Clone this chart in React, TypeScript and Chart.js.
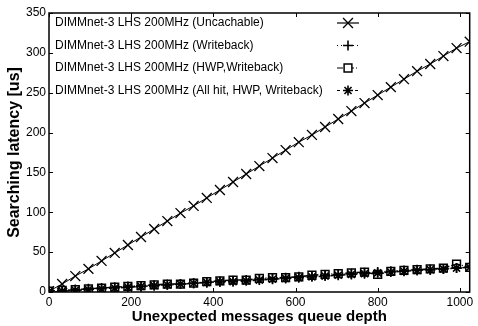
import React, { useEffect, useRef } from "react";
import { Chart, registerables } from "chart.js";
import { drawPoint } from "chart.js/helpers";

Chart.register(...registerables);

const depths = [0, 32, 64, 96, 128, 160, 192, 224, 256, 288, 320, 352, 384, 416, 448, 480, 512, 544, 576, 608, 640, 672, 704, 736, 768, 800, 832, 864, 896, 928, 960, 992, 1024];
const uncachable = [1, 10, 20, 29, 39, 49, 59, 69, 79, 89, 99, 108, 118, 128, 138, 148, 158, 168, 178, 188, 197, 207, 217, 227, 237, 247, 257, 267, 277, 286, 296, 306, 314];
const writeback = [1, 2, 3, 4, 5, 6, 7, 7, 8, 9, 10, 11, 12, 13, 14, 15, 16, 17, 18, 19, 20, 21, 22, 23, 24, 25, 26, 27, 28, 28, 29, 30, 31];
const hwpWriteback = [1, 2, 3, 4, 5, 6, 7, 8, 9, 10, 10, 11, 13, 14, 15, 15, 17, 18, 18, 19, 21, 22, 23, 24, 25, 22, 26, 27, 28, 29, 30, 35, 31];
const allHit = [0, 1, 2, 3, 4, 5, 6, 7, 8, 9, 10, 11, 12, 13, 13, 14, 15, 16, 17, 18, 19, 20, 21, 22, 23, 24, 25, 26, 27, 28, 29, 30, 31];
const seriesLabels = [
  "DIMMnet-3 LHS 200MHz (Uncachable)",
  "DIMMnet-3 LHS 200MHz (Writeback)",
  "DIMMnet-3 LHS 200MHz (HWP,Writeback)",
  "DIMMnet-3 LHS 200MHz (All hit, HWP, Writeback)",
];
const xTicks = [0, 200, 400, 600, 800, 1000];
const yTicks = [0, 50, 100, 150, 200, 250, 300, 350];

const toPts = (vals: number[]) => vals.map((v, i) => ({ x: depths[i], y: v }));
const zeroPad = () => ({ left: 0, right: 0, top: 0, bottom: 0 });

const frameAndLegend = {
  id: "frameAndLegend",
  afterDraw(chart: any) {
    const ctx = chart.ctx;
    const { left, right, top, bottom } = chart.chartArea;
    const xs = chart.scales.x;
    const ys = chart.scales.y;
    ctx.save();
    ctx.strokeStyle = "#000";
    ctx.lineWidth = 1.5;
    ctx.strokeRect(left, top, right - left, bottom - top);
    ctx.lineWidth = 1;
    ctx.beginPath();
    xTicks.forEach((t) => {
      const px = Math.round(xs.getPixelForValue(t)) + 0.5;
      ctx.moveTo(px, bottom);
      ctx.lineTo(px, bottom - 4);
      ctx.moveTo(px, top);
      ctx.lineTo(px, top + 4);
    });
    yTicks.forEach((t) => {
      const py = Math.round(ys.getPixelForValue(t)) + 0.5;
      ctx.moveTo(left, py);
      ctx.lineTo(left + 4, py);
      ctx.moveTo(right, py);
      ctx.lineTo(right - 4, py);
    });
    ctx.stroke();

    // legend
    ctx.font = "12px 'Liberation Sans', Arial, sans-serif";
    ctx.fillStyle = "#000";
    ctx.textBaseline = "middle";
    ctx.textAlign = "left";
    chart.data.datasets.forEach((ds: any, i: number) => {
      const y = top + 10 + i * 22.5;
      ctx.fillText(ds.label, left + 6, y);
      const sx0 = left + 288;
      const sx1 = left + 310;
      ctx.save();
      ctx.lineWidth = 1.2;
      ctx.setLineDash(ds.borderDash || []);
      ctx.beginPath();
      ctx.moveTo(sx0, y);
      ctx.lineTo(sx1, y);
      ctx.stroke();
      ctx.restore();
      ctx.save();
      ctx.strokeStyle = "#000";
      ctx.fillStyle = "#fff";
      ctx.lineWidth = ds.pointBorderWidth;
      drawPoint(ctx, { pointStyle: ds.pointStyle, radius: ds.pointRadius, borderWidth: ds.pointBorderWidth, rotation: 0 }, (sx0 + sx1) / 2, y);
      ctx.restore();
    });
    ctx.restore();
  },
};

export default function App() {
  const ref = useRef<HTMLCanvasElement>(null);
  useEffect(() => {
    document.body.style.margin = "0";
    const mk = (label: string, vals: number[], style: string, r: number, dash: number[], lw: number, pw: number) => ({
      label,
      data: toPts(vals),
      borderColor: "#000",
      backgroundColor: "rgba(0,0,0,0)",
      borderWidth: lw,
      borderDash: dash,
      pointStyle: style,
      pointRadius: r,
      pointBorderColor: "#000",
      pointBackgroundColor: "rgba(0,0,0,0)",
      pointBorderWidth: pw,
      showLine: true,
    });
    const chart = new Chart(ref.current!, {
      type: "scatter",
      data: {
        datasets: [
          mk(seriesLabels[0], uncachable, "crossRot", 7, [], 1, 1.3),
          mk(seriesLabels[1], writeback, "cross", 5, [1, 3], 1.5, 1.6),
          mk(seriesLabels[2], hwpWriteback, "rect", 5.5, [6, 2, 1, 2], 1.5, 1.5),
          mk(seriesLabels[3], allHit, "star", 5, [3, 3], 1.5, 1.6),
        ] as any,
      },
      options: {
        animation: false,
        responsive: false,
        maintainAspectRatio: false,
        layout: { padding: { top: 13, right: 4, left: 0, bottom: 0 } },
        plugins: { legend: { display: false }, tooltip: { enabled: false } },
        scales: {
          x: {
            type: "linear",
            min: 0,
            max: 1024,
            grid: { display: false, drawTicks: false },
            border: { display: false },
            afterFit: (s: any) => { s.height = 34; s.paddingLeft = 0; s.paddingRight = 0; s.getPadding = zeroPad; },
            afterBuildTicks: (s: any) => { s.ticks = xTicks.map((v) => ({ value: v })); },
            ticks: {
              padding: 3,
              color: "#000",
              font: { family: "'Liberation Sans', Arial, sans-serif", size: 12 },
              maxRotation: 0,
              callback: (v: any) => String(v),
            },
            title: {
              display: true,
              text: "Unexpected messages queue depth",
              color: "#000",
              font: { family: "'Liberation Sans', Arial, sans-serif", size: 15, weight: "bold" },
              padding: 0,
            },
          },
          y: {
            type: "linear",
            min: 0,
            max: 350,
            grid: { display: false, drawTicks: false },
            border: { display: false },
            afterFit: (s: any) => { s.width = 49; s.paddingTop = 0; s.paddingBottom = 0; s.getPadding = zeroPad; },
            afterBuildTicks: (s: any) => { s.ticks = yTicks.map((v) => ({ value: v })); },
            ticks: {
              padding: 3,
              color: "#000",
              font: { family: "'Liberation Sans', Arial, sans-serif", size: 12 },
              callback: (v: any) => String(v),
            },
            title: {
              display: true,
              text: "Searching latency [us]",
              color: "#000",
              font: { family: "'Liberation Sans', Arial, sans-serif", size: 16, weight: "bold" },
              padding: 5,
            },
          },
        },
      },
      plugins: [frameAndLegend],
    });
    return () => chart.destroy();
  }, []);
  return <canvas ref={ref} width={478} height={326} style={{ display: "block" }} />;
}
